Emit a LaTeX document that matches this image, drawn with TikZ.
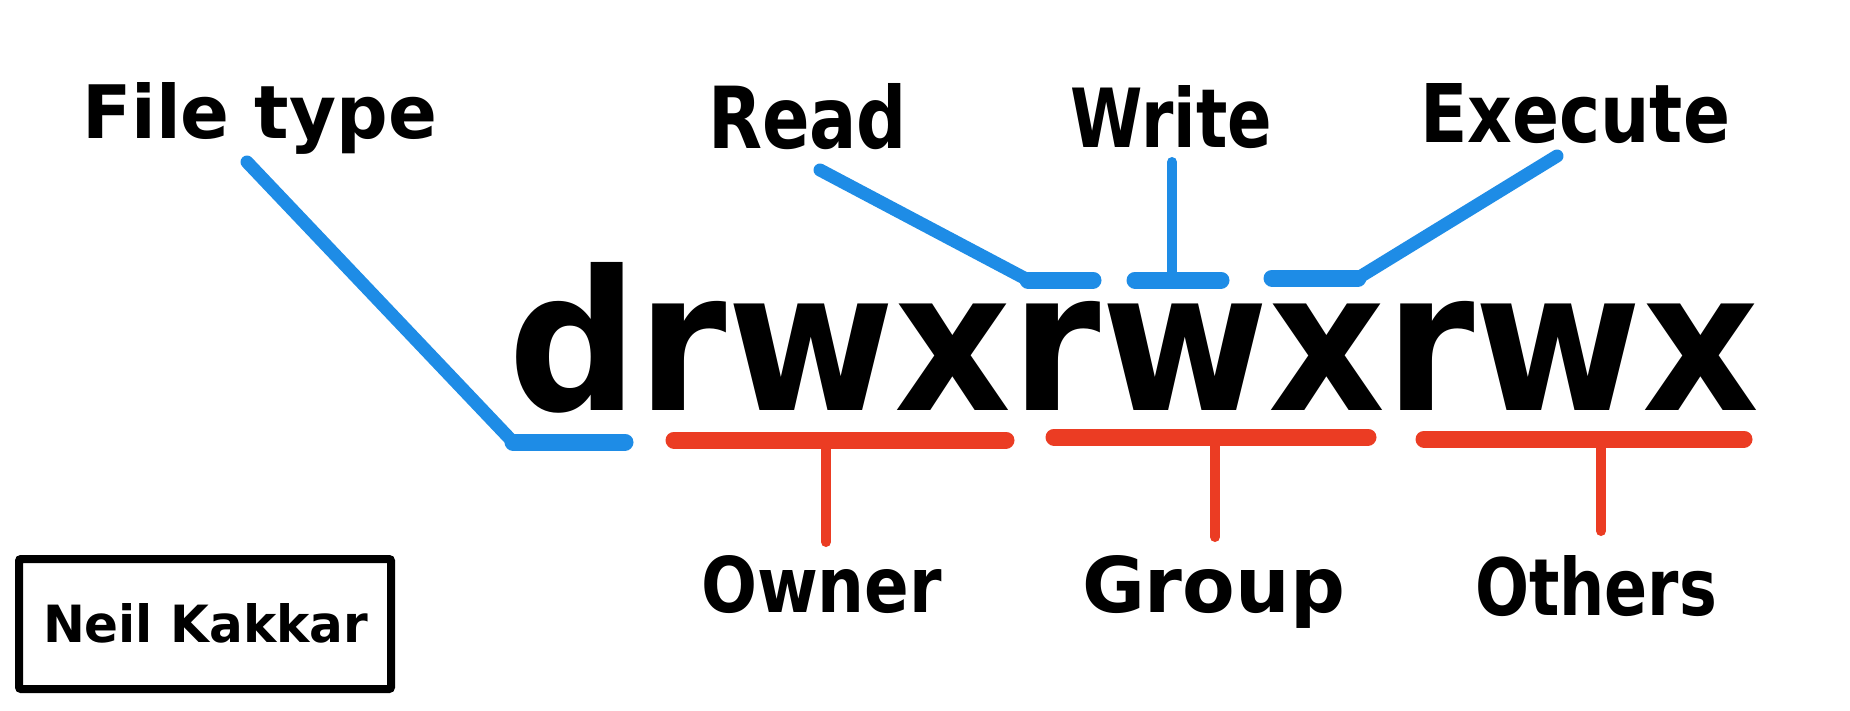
\documentclass[tikz,border=0pt]{standalone}
\usepackage{fontspec}
\setmainfont{DejaVu Sans}
\usepackage{graphicx}
\definecolor{lineblue}{HTML}{1E8CE6}
\definecolor{linered}{HTML}{EB3C23}
\newcommand{\fitbox}[3]{\resizebox{#1pt}{#2pt}{\bfseries #3}}
\tikzset{
  lbl/.style={anchor=base west, inner sep=0pt, outer sep=0pt},
  bluethin/.style={draw=lineblue, line width=13pt, line cap=round, line join=round},
  bluethick/.style={draw=lineblue, line width=17pt, line cap=round, line join=round},
  redbar/.style={draw=linered, line width=17pt, line cap=round},
  redstem/.style={draw=linered, line width=10pt, line cap=round},
  signbox/.style={draw=black, line width=8pt, rounded corners=2pt}
}
\begin{document}
\begin{tikzpicture}[x=1pt, y=-1pt]
\useasboundingbox[fill=white] (0,0) rectangle (1850,710);

% labels
\node[lbl] (filetype) at (82,138) {\fitbox{355}{56}{File type}};
\node[lbl] (read) at (708,148) {\fitbox{199}{65}{Read}};
\node[lbl] (write) at (1070,147) {\fitbox{202}{62}{Write}};
\node[lbl] (execute) at (1420,142) {\fitbox{310}{59}{Execute}};
\node[lbl] (perm) at (508,410) {\fitbox{1251}{148}{drwxrwxrwx}};
\node[lbl] (owner) at (701,612) {\fitbox{241}{57}{Owner}};
\node[lbl] (group) at (1082,612) {\fitbox{263}{57}{Group}};
\node[lbl] (others) at (1475,615) {\fitbox{242}{60}{Others}};

% signature box
\draw[signbox] (19,559) rectangle (391,689);
\node[lbl] (sign) at (43,642) {\fitbox{325}{39}{Neil Kakkar}};

% blue connectors (top)
\coordinate (ftA) at (247,162);
\coordinate (ftB) at (513,442);
\coordinate (ftC) at (625,442);
\draw[bluethin] (ftA) -- (ftB);
\draw[bluethick] (ftB) -- (ftC);

\coordinate (rdA) at (820,170);
\coordinate (rdB) at (1028,280);
\coordinate (rdC) at (1093,280);
\draw[bluethin] (rdA) -- (rdB);
\draw[bluethick] (rdB) -- (rdC);

\coordinate (wrA) at (1172,162);
\coordinate (wrB) at (1172,279);
\coordinate (wrL) at (1135,280);
\coordinate (wrR) at (1221,280);
\draw[bluethin, line width=10pt] (wrA) -- (wrB);
\draw[bluethick] (wrL) -- (wrR);

\coordinate (exA) at (1557,156);
\coordinate (exB) at (1358,278);
\coordinate (exC) at (1272,278);
\draw[bluethin] (exA) -- (exB);
\draw[bluethick] (exB) -- (exC);

% red connectors (bottom)
\coordinate (owL) at (674,440);
\coordinate (owR) at (1006,440);
\coordinate (owT) at (826,440);
\coordinate (owB) at (826,542);
\draw[redbar] (owL) -- (owR);
\draw[redstem] (owT) -- (owB);

\coordinate (grL) at (1054,437);
\coordinate (grR) at (1368,437);
\coordinate (grT) at (1215,437);
\coordinate (grB) at (1215,537);
\draw[redbar] (grL) -- (grR);
\draw[redstem] (grT) -- (grB);

\coordinate (otL) at (1424,439);
\coordinate (otR) at (1744,439);
\coordinate (otT) at (1601,439);
\coordinate (otB) at (1601,531);
\draw[redbar] (otL) -- (otR);
\draw[redstem] (otT) -- (otB);
\end{tikzpicture}
\end{document}
